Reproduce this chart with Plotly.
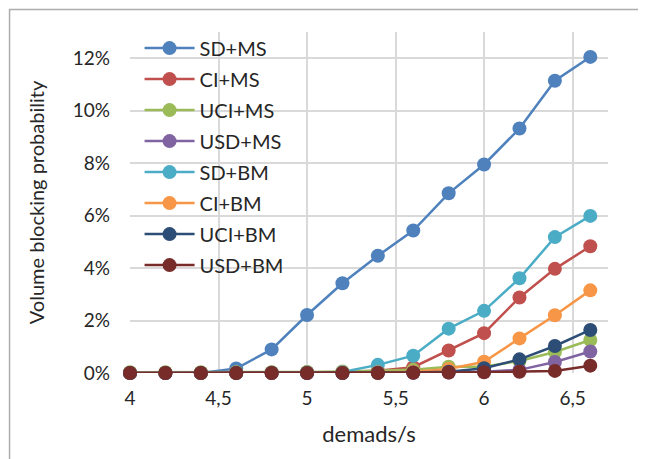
import plotly.graph_objects as go

demands = [4.0, 4.2, 4.4, 4.6, 4.8, 5.0, 5.2, 5.4, 5.6, 5.8, 6.0, 6.2, 6.4, 6.6]

series_names = ["SD+MS", "CI+MS", "UCI+MS", "USD+MS", "SD+BM", "CI+BM", "UCI+BM", "USD+BM"]

sd_ms  = [0.0, 0.0, 0.0, 0.17, 0.90, 2.21, 3.42, 4.47, 5.43, 6.85, 7.95, 9.32, 11.14, 12.05]
ci_ms  = [0.01, 0.01, 0.01, 0.02, 0.02, 0.03, 0.04, 0.09, 0.22, 0.86, 1.52, 2.88, 3.97, 4.83]
uci_ms = [0.03, 0.03, 0.03, 0.03, 0.03, 0.04, 0.06, 0.08, 0.12, 0.24, 0.24, 0.46, 0.80, 1.26]
usd_ms = [0.0, 0.0, 0.0, 0.0, 0.0, 0.0, 0.0, 0.01, 0.01, 0.02, 0.05, 0.12, 0.42, 0.82]
sd_bm  = [0.0, 0.0, 0.0, 0.0, 0.01, 0.02, 0.04, 0.31, 0.66, 1.69, 2.37, 3.61, 5.18, 5.99]
ci_bm  = [0.0, 0.0, 0.0, 0.0, 0.0, 0.01, 0.02, 0.03, 0.05, 0.15, 0.43, 1.32, 2.20, 3.15]
uci_bm = [0.0, 0.0, 0.0, 0.0, 0.0, 0.0, 0.0, 0.01, 0.02, 0.05, 0.18, 0.52, 1.03, 1.64]
usd_bm = [0.0, 0.0, 0.0, 0.0, 0.0, 0.0, 0.0, 0.0, 0.01, 0.02, 0.03, 0.05, 0.08, 0.28]

all_values = [sd_ms, ci_ms, uci_ms, usd_ms, sd_bm, ci_bm, uci_bm, usd_bm]
colors = ["#4F81BD", "#C0504D", "#9BBB59", "#8064A2", "#4BACC6", "#F79646", "#2C4D75", "#772C2A"]

x_tickvals = [4, 4.5, 5, 5.5, 6, 6.5]
x_ticktext = ["4", "4,5", "5", "5,5", "6", "6,5"]

FONT = "Lato"
TXT = "#262626"

fig = go.Figure()
for i, (name, vals, col) in enumerate(zip(series_names, all_values, colors)):
    fig.add_trace(go.Scatter(
        x=demands, y=[v / 100 for v in vals], name=name, mode="lines+markers",
        line=dict(color=col, width=2.5),
        marker=dict(color=col, size=14),
        cliponaxis=False, legendgroup=name,
    ))

# page body has an 8px default margin, so the figure is offset by 8px
fig.update_layout(
    width=638, height=451,
    margin=dict(l=122, r=38, t=24, b=86),
    paper_bgcolor="white", plot_bgcolor="white",
    font=dict(family=FONT, size=19, color=TXT),
    showlegend=True,
    legend=dict(
        x=0.02, y=1.01, xanchor="left", yanchor="top",
        bgcolor="rgba(255,255,255,0)",
        font=dict(family=FONT, size=20, color=TXT),
        traceorder="grouped", tracegroupgap=2,
        itemwidth=50, maxheight=400,
    ),
    xaxis=dict(
        range=[4, 6.7], tickvals=x_tickvals, ticktext=x_ticktext,
        showgrid=True, gridcolor="#D9D9D9", gridwidth=1.5,
        zeroline=False, showline=False, ticks="", automargin=False,
        tickfont=dict(family=FONT, size=19, color=TXT),
        ticklabelstandoff=12,
        title=dict(text="demads/s", font=dict(family=FONT, size=22, color=TXT), standoff=18),
    ),
    yaxis=dict(
        range=[0, 0.13], tickvals=[0, 0.02, 0.04, 0.06, 0.08, 0.10, 0.12],
        tickformat=".0%",
        showgrid=True, gridcolor="#D9D9D9", gridwidth=1.5,
        zeroline=False, showline=False, ticks="", automargin=False,
        tickfont=dict(family=FONT, size=19, color=TXT),
        ticklabelstandoff=19,
        title=dict(text="Volume blocking probability", font=dict(family=FONT, size=20, color=TXT), standoff=22),
    ),
    shapes=[dict(
        type="rect", xref="paper", yref="paper",
        x0=-0.252, x1=1.1, y0=-0.3, y1=1.066,
        line=dict(color="#ADADAD", width=1.5), fillcolor="rgba(0,0,0,0)", layer="below",
    )],
)

fig.write_html("out.html")
